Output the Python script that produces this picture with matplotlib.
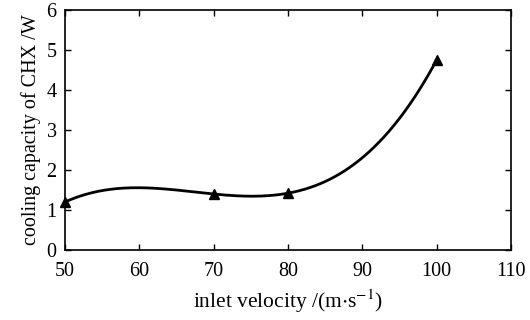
import numpy as np
import matplotlib
matplotlib.use("Agg")
import matplotlib.pyplot as plt

velocity = [50, 70, 80, 100]
capacity = [1.2, 1.4, 1.42, 4.75]
xticks = [50, 60, 70, 80, 90, 100, 110]
yticks = [0, 1, 2, 3, 4, 5, 6]

plt.rcParams['font.family'] = ['Liberation Serif', 'DejaVu Serif']
plt.rcParams['mathtext.fontset'] = 'stix'

fig = plt.figure(figsize=(5.3, 3.2), dpi=100)
ax = fig.add_axes([65/530, 70/320, 446/530, 240/320])

coef = np.polyfit(velocity, capacity, 3)
xs = np.linspace(min(velocity), max(velocity), 300)
ax.plot(xs, np.polyval(coef, xs), color='black', lw=2)
ax.plot(velocity, capacity, linestyle='none', marker='^', color='black', markersize=7, clip_on=False)

ax.set_xlim(50, 110)
ax.set_ylim(0, 6)
ax.set_xticks(xticks)
ax.set_yticks(yticks)
ax.tick_params(direction='in', length=4, labelsize=14.5, top=True, right=True, width=1)
ax.tick_params(axis='x', pad=9)
ax.tick_params(axis='y', pad=6)
for s in ax.spines.values():
    s.set_linewidth(1.2)
ax.set_xlabel(r'inlet velocity /(m$\cdot$s$^{-1}$)', fontsize=15.5, labelpad=4)
ax.set_ylabel('cooling capacity of CHX /W', fontsize=14.5, labelpad=4)

fig.savefig('out.png', dpi=100)
